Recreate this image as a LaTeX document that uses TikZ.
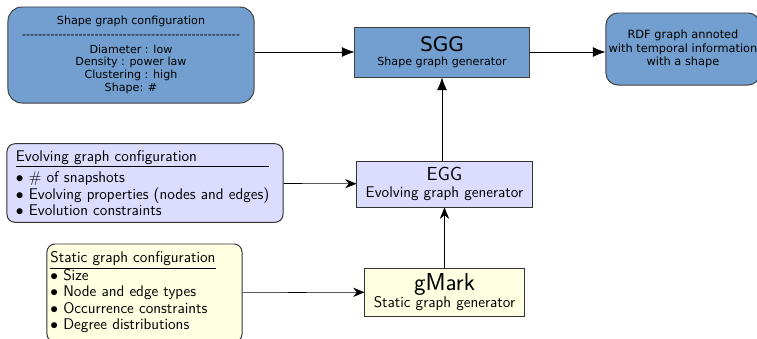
\documentclass[tikz,border=0pt]{standalone}
\usepackage{fontspec}
\usetikzlibrary{positioning,calc,arrows,arrows.meta}
\newfontfamily\dejavu{DejaVu Sans}
\definecolor{sggblue}{HTML}{729FCF}
\definecolor{eggviolet}{HTML}{DCDCFF}
\definecolor{gmarkyellow}{HTML}{FFFFE2}
\tikzset{font=\small}

\begin{document}
\begin{tikzpicture}[x=0.025cm, y=-0.025cm]
	\useasboundingbox (0, 0) rectangle (757, 338);
	\begin{scope}
		\tikzstyle{every node}=[align=center, inner sep=1pt, line width=0.7pt]
		\tikzstyle{topbox}=[draw=black!75, fill=sggblue, font=\dejavu\fontsize{7.9}{9.2}\selectfont]
		\tikzstyle{cfgbox}=[draw=black!80, rounded corners=0.2cm, align=left, font=\sffamily\fontsize{11}{11.8}\selectfont]
		\tikzstyle{genbox}=[draw=black!80, font=\sffamily\fontsize{11}{12}\selectfont]

		\node[topbox, rounded corners=0.35cm, minimum width=6.15cm, minimum height=2.4cm] (shapecfg) at (131, 55)
			{Shape graph configuration\\[1pt]
			\makebox[155pt]{\xleaders\hbox{-}\hfill}\\[1pt]
			Diameter : low\\ Density : power law\\ Clustering : high\\ Shape: \#};
		\node[topbox, minimum width=4.35cm, minimum height=1.25cm] (sgg) at (442, 52)
			{{\fontsize{14.3}{15}\selectfont SGG}\\[1pt] Shape graph generator};
		\node[topbox, rounded corners=0.3cm, minimum width=3.85cm, minimum height=1.8cm, font=\dejavu\fontsize{8.1}{9.6}\selectfont] (rdf) at (683, 49)
			{RDF graph annoted\\ with temporal information\\ with a shape};

		\node[cfgbox, fill=eggviolet, minimum width=6.9cm, minimum height=1.95cm, text width=6.45cm] (evolving) at (145, 183)
			{\begin{tabular}{@{}l@{}}
			\rule{0pt}{11.3pt}Evolving graph configuration\\ \hline
			\rule{0pt}{11.5pt}$\bullet$ $\#$ of snapshots\\
			$\bullet$ Evolving properties (nodes and edges)\\
			$\bullet$ Evolution constraints
			\end{tabular}};
		\node[genbox, fill=eggviolet, minimum width=4.375cm, minimum height=1.15cm] (egg) at (444.5, 184)
			{{\fontsize{13.4}{14}\selectfont EGG}\\[-0.5pt] Evolving graph generator};

		\node[cfgbox, fill=gmarkyellow, minimum width=4.875cm, minimum height=2.45cm, text width=4.7cm] (static) at (144.5, 293)
			{\begin{tabular}{@{}l@{}}
			Static graph configuration\\ \hline
			$\bullet$ Size\\
			$\bullet$ Node and edge types\\
			$\bullet$ Occurrence constraints\\
			$\bullet$ Degree distributions
			\end{tabular}};
		\node[genbox, fill=gmarkyellow, minimum width=3.975cm, minimum height=1.2cm] (gmark) at (444.5, 292)
			{{\fontsize{17.4}{18}\selectfont gMark}\\[0.5pt] Static graph generator};

		\draw [-{Latex[length=9pt, width=7pt]}] (sgg.west -| shapecfg.east) to (sgg.west);
		\draw [-{Latex[length=9pt, width=7pt]}] (sgg.east) to (sgg.east -| rdf.west);
		\draw [-{Latex[length=9pt, width=7pt]}] (egg.north -| sgg.south) to (sgg.south);
		\draw [-{Stealth[length=8pt, width=6.5pt]}] (evolving) to (egg);
		\draw [-{Stealth[length=8pt, width=6.5pt]}] (gmark) to (egg);
		\draw [-{Stealth[length=8pt, width=6.5pt]}] (static) to (gmark);
	\end{scope}
\end{tikzpicture}
\end{document}
